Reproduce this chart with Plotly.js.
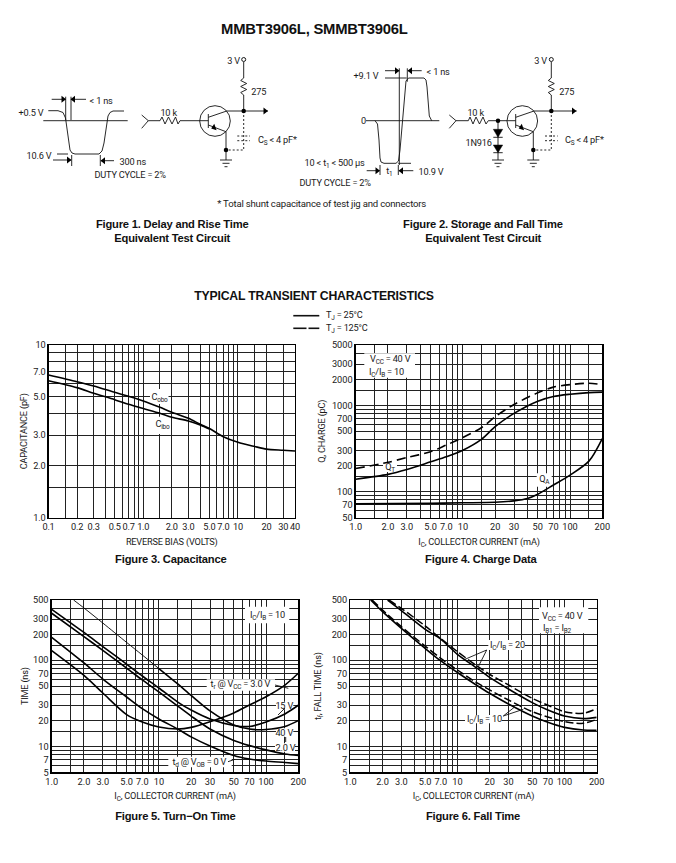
<!DOCTYPE html>
<html><head><meta charset="utf-8">
<script src="https://cdn.plot.ly/plotly-3.0.1.min.js"></script>
<style>html,body{margin:0;padding:0;background:#fff}#c{width:676px;height:863px}
.small-text text,.infolayer text,.xtick text,.ytick text,.xtitle,.ytitle{letter-spacing:-0.2px}
</style>
</head><body><div id="c"></div>
<script>
const NARROW = 'Roboto,"Liberation Sans",Arial,sans-serif';
const SANS = '"Liberation Sans",Arial,sans-serif';
const INK = '#1a1a1a';

// ---------- Figure 3: capacitance ----------
const capX = [0.1,0.2,0.3,0.5,0.7,1,1.5,2,3,4,5,7,10,15,20,30,40];
const cobo = [6.7,6.13,5.79,5.32,5.04,4.74,4.35,4.07,3.76,3.47,3.28,2.94,2.73,2.58,2.49,2.455,2.43];
const ciboX = [0.1,0.2,0.3,0.5,0.7,1,1.5,2,3,4,5];
const cibo = [6.21,5.66,5.25,4.82,4.53,4.28,4.02,3.81,3.63,3.44,3.26];
const capGridX = [0.1,0.15,0.2,0.3,0.4,0.5,0.6,0.7,0.8,0.9,1,1.5,2,3,4,5,6,7,8,9,10,15,20,30,40];
const capTextX = ['0.1','','0.2','0.3','','0.5','','0.7','','','1.0','','2.0','3.0','','5.0','','7.0','','','10','','20','30','40'];
const capGridY = [1,1.5,2,3,4,5,6,7,8,9,10];
const capTextY = ['1.0','','2.0','3.0','','5.0','','7.0','','','10'];

// ---------- Figure 4: charge ----------
const qX = [1,2,3,5,7,10,15,20,30,50,70,100,150,200];
const qt25 = [139,158,180,221,253,301,405,564,805,1117,1265,1343,1404,1420];
const qt125 = [185,218,248,289,346,423,553,736,1022,1396,1625,1736,1800,1736];
const qaX = [1,5,10,20,30,40,50,70,100,150,200];
const qa = [72,73,74,75,78,83,93,119,155,225,412];
const currentGridX = [1,1.5,2,3,4,5,6,7,8,9,10,15,20,30,40,50,60,70,80,90,100,150,200];
const currentTextX = ['1.0','','2.0','3.0','','5.0','','7.0','','','10','','20','30','','50','','70','','','100','','200'];
const qGridY = [50,60,70,80,90,100,150,200,300,400,500,600,700,800,900,1000,1500,2000,3000,4000,5000];
const qTextY = ['50','','70','','','100','','200','300','','500','','700','','','1000','','2000','3000','','5000'];

// ---------- Figure 5: turn-on time ----------
const tonX = [1,2,3,5,7,10,15,20,30,50,70,100,150,200];
const tr3 = [129,66.5,41.6,23.4,19.2,16.8,15.9,16.6,19.3,24.4,30.2,37.7,51.5,70.5];
const tr15 = [390,210,144,90,65.6,47.6,32.7,26.4,20.8,17.5,17,19.2,23.8,30];
const tr40ThinX = [1.6,2,3,5,7,10];
const tr40Thin = [500,404,270,161,115,80];
const tr40X = [10,15,20,30,50,70,100,150,200];
const tr40 = [80,53,39,25.8,17.7,15.9,15.7,17,19.9];
const td2 = [351,188,130,81,59,42.8,29.4,22.5,15.9,11.7,10.2,9.1,8.15,7.83];
const td0 = [184.5,93,60.5,37.4,27.4,20.8,15.9,12.9,10.1,7.83,7.13,6.76,6.5,6.3];
const timeGridY = [5,6,7,8,9,10,15,20,30,40,50,60,70,80,90,100,150,200,300,400,500];
const timeTextY = ['5','','7','','','10','','20','30','','50','','70','','','100','','200','300','','500'];

// ---------- Figure 6: fall time ----------
const fallX = [3,5,7,10,15,20,30,50,70,100,150,200];
const fall20X = [2.23].concat(fallX);
const fall20 = [500,376,228,176,117,82,63.3,46.4,32.2,26.4,22.5,21,21.7];
const fall20hotX = [2.3].concat(fallX);
const fall20hot = [500,400,250,178,126,87,68.6,51.6,36.1,30,25.3,24.2,27.4];
const fall10X = [1.55,2].concat(fallX);
const fall10 = [500,366,234,137,98,72,51.6,41.3,31,22.5,19,16.6,15.5,15.4];
const fall10hotX = [1.6,2].concat(fallX);
const fall10hot = [500,383,245,146,105,77,55.3,45.2,34.5,25.3,21.9,19.4,18.5,20.6];

// ---------- Plot frames in page pixels: [left,right,top,bottom] ----------
const frames = [[48.5,295,345,517.5],[355.7,602.3,345,517.5],[51.7,298.3,600,772.3],[350.3,596.7,600,772.3]];
const limits = [[0.1,40,1,10],[1,200,50,5000],[1,200,5,500],[1,200,5,500]];

// White patches that cut the grid behind labels [chart,left,right,top,bottom]
const masks = [
 [0,150,168.5,389,404],[0,155,170,416.7,434],
 [1,364.3,415,353.3,377.7],[1,383,397,463,472],[1,536.7,551.7,473.3,486.7],
 [2,245,289.3,606.7,623.3],[2,206.7,275,679.3,690.7],[2,276,293.3,701.7,709.3],[2,276,293.3,728.3,736.7],[2,275,295,743.3,751.7],[2,168.3,231.7,756.7,767.3],
 [3,539,588.3,607.3,633.3],[3,488.3,525,640,650],[3,465,501.7,715,723.3]
];

// ---------- Schematic polylines, in page pixels ----------
const wires = [
 // fig 1 waveform
 [[43.3,120.7],[127.7,120.7]],
 [[48.3,110.7],[58,110.7],[63,112.5],[65.5,118],[70,150],[72,153],[75,154],[99,154],[102,151],[104,143],[108,116],[110,112.5],[113,111],[124,111]],
 [[65.7,96.7],[65.7,120]],[[71,96.7],[71,120]],
 [[51.7,99.3],[65.7,99.3]],[[86,99.3],[71,99.3]],
 [[57,154],[68,154]],[[53,160],[71,160]],[[71.7,155],[71.7,166]],[[100.3,155],[100.3,166]],[[114,160.7],[101,160.7]],
 // fig 1 circuit
 [[141.7,115],[148.3,120.7],[141.7,128.3]],
 [[148.3,120.7],[160,120.7],[162,117],[165,124],[168.5,117],[172,124],[175.5,117],[178,124],[180,120.7],[200,120.7]],
 [[200,120.7],[208.3,120.7]],[[208.3,114],[208.3,128]],
 [[208.3,117.3],[226.7,111],[268,111]],
 [[208.3,125],[226,131.7],[226,160]],
 [[243.7,111],[243.7,95],[240.7,92.5],[246.7,89.5],[240.7,86.5],[246.7,83.5],[240.7,80.5],[243.7,78],[243.7,62]],
 [[220,160],[232,160]],[[222.5,163.3],[229.5,163.3]],[[224.5,166.7],[227.5,166.7]],
 // fig 2 waveform
 [[366,120.7],[439.3,120.7]],
 [[375,120.7],[377.5,124],[379,140],[380,158],[381,162],[384,163.3],[396,163.3],[398.5,161],[400,150],[405,86],[406,81],[408.5,78],[424,78],[426,80],[427,87],[429.3,116],[431.7,120.7]],
 [[385,78],[406.7,78]],[[398.3,163.3],[411,163.3]],
 [[399.3,68.3],[399.3,165]],[[407.3,68.3],[407.3,81.7]],
 [[385,70.7],[399,70.7]],[[421.7,70.7],[408,70.7]],
 [[380,165],[380,175]],[[398.3,165],[398.3,175]],
 [[366.7,170.7],[379.5,170.7]],[[413.3,170.7],[399,170.7]],
 // fig 2 circuit
 [[449.3,115],[456,120.7],[449.3,128.3]],
 [[456,120.7],[468.3,120.7],[470,117],[473,124],[476,117],[479.5,124],[483,117],[486,124],[488.3,120.7],[507.3,120.7]],
 [[507.3,120.7],[515.7,120.7]],[[515.7,114],[515.7,128]],
 [[515.7,117.3],[534,111],[576.7,111]],
 [[515.7,125],[533.3,131.7],[533.3,160]],
 [[551.3,111],[551.3,95],[548.3,92.5],[554.3,89.5],[548.3,86.5],[554.3,83.5],[548.3,80.5],[551.3,78],[551.3,62]],
 [[527.3,160],[539.3,160]],[[529.8,163.3],[536.8,163.3]],[[531.8,166.7],[534.8,166.7]],
 [[498,120.7],[498,160]],
 [[493.3,137.3],[502.7,137.3]],[[493.3,152.7],[502.7,152.7]],
 [[492,160],[504,160]],[[494.5,163.3],[501.5,163.3]],[[496.5,166.7],[499.5,166.7]],
 // leaders
 [[275,685],[288.3,688.3]],[[285,708],[278,715]],[[285.7,737],[285.7,742]],[[228,761.7],[235,759.3]],
 [[465,659.3],[486.7,650],[478.3,666.7]],[[515,706.7],[503.3,716],[523.3,709.3]]
];
const dashedWires = [
 [[243.7,111],[243.7,150],[226,150]],[[237.3,136],[250,136]],[[237.3,140.7],[250,140.7]],
 [[551.3,111],[551.3,150],[533.3,150]],[[545,136],[557.7,136]],[[545,140.7],[557.7,140.7]]
];
const diodes = [
 [[493.3,129.3],[502.7,129.3],[498,137.3],[493.3,129.3]],
 [[493.3,145],[502.7,145],[498,152.7],[493.3,145]]
];
const dots = [[243.7,111],[226,150],[551.3,111],[533.3,150],[498,120.7]];
const openDots = [[243.7,59.5],[551.3,59.5]];
const transistors = [[215,121],[522.3,121]];
// arrowheads: x,y,angle
const heads = [
 [63,99.3,90],[73.5,99.3,-90],[68.5,160,90],[103.5,160.7,-90],[265,111,90],[214,127.5,-110],
 [396.5,70.7,90],[410.5,70.7,-90],[377,170.7,90],[401.5,170.7,-90],[573.5,111,90],[521.5,127.5,-110]
];
const legendSolid = [[293.3,315.7],[319.3,315.7]];
const legendDash = [[293.3,328.3],[306.5,328.3],null,[308.5,328.3],[319.3,328.3]];

// ---------- Text: x,y,text,size,bold,anchor ----------
const S = 9.2, CAP = 11.2;
const texts = [
 [314,29,'MMBT3906L, SMMBT3906L',14.8,1,'center'],
 [45,112,'+0.5 V',S,0,'right'],[88,100,'&lt; 1 ns',S,0,'left'],[53,155,'10.6 V',S,0,'right'],
 [118,161,'300 ns',S,0,'left'],[130,174,'DUTY CYCLE = 2%',S,0,'center'],
 [168.5,112,'10 k',S,0,'center'],[233,60,'3 V',S,0,'center'],[250,91,'275',S,0,'left'],
 [256,140,'C<sub>S</sub> &lt; 4 pF*',S,0,'left'],
 [380,75,'+9.1 V',S,0,'right'],[425,71,'&lt; 1 ns',S,0,'left'],[360,120.7,'0',S,0,'left'],
 [367,163,'10 &lt; t<sub>1</sub> &lt; 500 µs',S,0,'right'],[389.5,171,'t<sub>1</sub>',S,0,'center'],[417,171,'10.9 V',S,0,'left'],
 [335,182,'DUTY CYCLE = 2%',S,0,'center'],
 [476,112,'10 k',S,0,'center'],[540,60,'3 V',S,0,'center'],[558,91,'275',S,0,'left'],[478,142,'1N916',S,0,'center'],
 [563,140,'C<sub>S</sub> &lt; 4 pF*',S,0,'left'],
 [321,203,'* Total shunt capacitance of test jig and connectors',9.6,0,'center'],
 [172,224,'Figure 1. Delay and Rise Time',CAP,1,'center'],[172,238,'Equivalent Test Circuit',CAP,1,'center'],
 [483,224,'Figure 2. Storage and Fall Time',CAP,1,'center'],[483,238,'Equivalent Test Circuit',CAP,1,'center'],
 [314,295.5,'TYPICAL TRANSIENT CHARACTERISTICS',12.25,1,'center'],
 [324,315.5,'T<sub>J</sub> = 25°C',S,0,'left'],[324,328,'T<sub>J</sub> = 125°C',S,0,'left'],
 [171,559,'Figure 3. Capacitance',CAP,1,'center'],[481,559,'Figure 4. Charge Data',CAP,1,'center'],
 [175,816,'Figure 5. Turn−On Time',CAP,1,'center'],[473,816,'Figure 6. Fall Time',CAP,1,'center'],
 [159,397.7,'C<sub>obo</sub>',S,0,'center'],[162.3,424.3,'C<sub>ibo</sub>',S,0,'center'],
 [390,359,'V<sub>CC</sub> = 40 V',S,0,'center'],[386.7,372,'I<sub>C</sub>/I<sub>B</sub> = 10',S,0,'center'],
 [390,467.7,'Q<sub>T</sub>',S,0,'center'],[544,479.3,'Q<sub>A</sub>',S,0,'center'],
 [267.7,615,'I<sub>C</sub>/I<sub>B</sub> = 10',S,0,'center'],[240,684.3,'t<sub>r</sub> @ V<sub>CC</sub> = 3.0 V',S,0,'center'],
 [284.3,705,'15 V',S,0,'center'],[284.3,732.3,'40 V',S,0,'center'],[285,747.3,'2.0 V',S,0,'center'],
 [199.3,762.3,'t<sub>d</sub> @ V<sub>OB</sub> = 0 V',S,0,'center'],
 [562.3,616,'V<sub>CC</sub> = 40 V',S,0,'center'],[557.3,628.3,'I<sub>B1</sub> = I<sub>B2</sub>',S,0,'center'],
 [507.7,645,'I<sub>C</sub>/I<sub>B</sub> = 20',S,0,'center'],[484,719,'I<sub>C</sub>/I<sub>B</sub> = 10',S,0,'center']
];

// ---------- Build ----------
const flat = (list, k) => { const o=[]; list.forEach(l=>{l.forEach(p=>o.push(p?p[k]:null));o.push(null);}); return o; };
function curve(ax, x, y, width, dash){
  return {x, y, xaxis:'x'+ax, yaxis:'y'+ax, mode:'lines', hoverinfo:'skip',
    line:{color:'#000', width:width||1.6, dash:dash||'solid', shape:'spline', smoothing:0.8}};
}
function page(list, width, dash, fill){
  return {x:flat(list,0), y:flat(list,1), xaxis:'x5', yaxis:'y5', mode:'lines', hoverinfo:'skip',
    fill:fill?'toself':'none', fillcolor:'#000', line:{color:'#111', width:width, dash:dash||'solid'}};
}
function marks(list, marker){
  return {x:list.map(p=>p[0]),y:list.map(p=>p[1]),xaxis:'x5',yaxis:'y5',mode:'markers',hoverinfo:'skip',marker};
}
const D1 = '8px,3px', D2 = '9px,5px';
const data = [
 curve(1,capX,cobo), curve(1,ciboX,cibo),
 curve(2,qX,qt25), curve(2,qX,qt125,1.6,D2), curve(2,qaX,qa),
 curve(3,tonX,tr3), curve(3,tonX,tr15), curve(3,tr40ThinX,tr40Thin,0.9), curve(3,tr40X,tr40), curve(3,tonX,td2), curve(3,tonX,td0),
 curve(4,fall20X,fall20), curve(4,fall20hotX,fall20hot,1.5,D1), curve(4,fall10X,fall10), curve(4,fall10hotX,fall10hot,1.5,D1),
 page(wires,0.9), page(dashedWires,0.9,'2px,2px'), page(diodes,0.5,null,true),
 page([legendSolid],1.6), page([legendDash],1.6),
 marks(dots,{color:'#000',size:4.5}),
 marks(openDots,{color:'#fff',size:4,line:{color:'#000',width:0.9}}),
 marks(transistors,{color:'rgba(0,0,0,0)',size:30.6,line:{color:'#111',width:0.9}}),
 marks(heads,{color:'#000',size:6,symbol:'triangle-up',angle:heads.map(p=>p[2])})
];
const tickFont = {family:NARROW,size:S,color:INK};
const titleFont = {family:NARROW,size:S,color:INK};
function logAxis(i,isX,lo,hi,vals,text,title,standoff){
  const f = frames[i];
  return {type:'log', range:[Math.log10(lo),Math.log10(hi)], autorange:false,
    domain: isX ? [f[0]/676,f[1]/676] : [1-f[3]/863,1-f[2]/863],
    anchor:(isX?'y':'x')+(i+1), tickmode:'array', tickvals:vals, ticktext:text, ticks:'', tickangle:0,
    tickfont:tickFont, showgrid:true, gridcolor:'#222', gridwidth:1, zeroline:false,
    showline:true, mirror:true, linecolor:'#000', linewidth:1.3, automargin:false,
    title:{text:title, font:titleFont, standoff:standoff}};
}
const IC = 'I<sub>C</sub>, COLLECTOR CURRENT (mA)';
const layout = {
  width:676, height:863, margin:{l:0,r:0,t:0,b:0}, paper_bgcolor:'#fff', plot_bgcolor:'rgba(0,0,0,0)', showlegend:false,
  font:{family:NARROW,color:INK},
  xaxis:logAxis(0,true,0.1,40,capGridX,capTextX,'REVERSE BIAS (VOLTS)',7),
  yaxis:logAxis(0,false,1,10,capGridY,capTextY,'CAPACITANCE (pF)',4),
  xaxis2:logAxis(1,true,1,200,currentGridX,currentTextX,IC,7),
  yaxis2:logAxis(1,false,50,5000,qGridY,qTextY,'Q, CHARGE (pC)',4),
  xaxis3:logAxis(2,true,1,200,currentGridX,currentTextX,IC,7),
  yaxis3:logAxis(2,false,5,500,timeGridY,timeTextY,'TIME (ns)',2),
  xaxis4:logAxis(3,true,1,200,currentGridX,currentTextX,IC,7),
  yaxis4:logAxis(3,false,5,500,timeGridY,timeTextY,'t<sub>f</sub>, FALL TIME (ns)',8),
  xaxis5:{domain:[0,1],range:[0,676],visible:false,fixedrange:true,anchor:'y5'},
  yaxis5:{domain:[0,1],range:[863,0],visible:false,fixedrange:true,anchor:'x5'},
  shapes: masks.map(m=>{
    const f=frames[m[0]], L=limits[m[0]], n=m[0]===0?'':String(m[0]+1);
    const xv=p=>L[0]*Math.pow(L[1]/L[0],(p-f[0])/(f[1]-f[0]));
    const yv=p=>L[2]*Math.pow(L[3]/L[2],(f[3]-p)/(f[3]-f[2]));
    return {type:'rect', layer:'between', xref:'x'+n, yref:'y'+n,
      x0:xv(m[1]), x1:xv(m[2]), y0:yv(m[4]), y1:yv(m[3]),
      fillcolor:'#fff', line:{width:0}};
  }),
  annotations: texts.map(t=>({
    xref:'x5', yref:'y5', x:t[0], y:t[1], text:t[4]?'<b>'+t[2]+'</b>':t[2], showarrow:false,
    xanchor:t[5], yanchor:'middle', borderpad:0,
    font:{family:t[4]?SANS:NARROW, size:t[3], color:t[4]?'#111':INK}
  }))
};
Plotly.newPlot('c', data, layout, {displayModeBar:false, staticPlot:true});
</script></body></html>
